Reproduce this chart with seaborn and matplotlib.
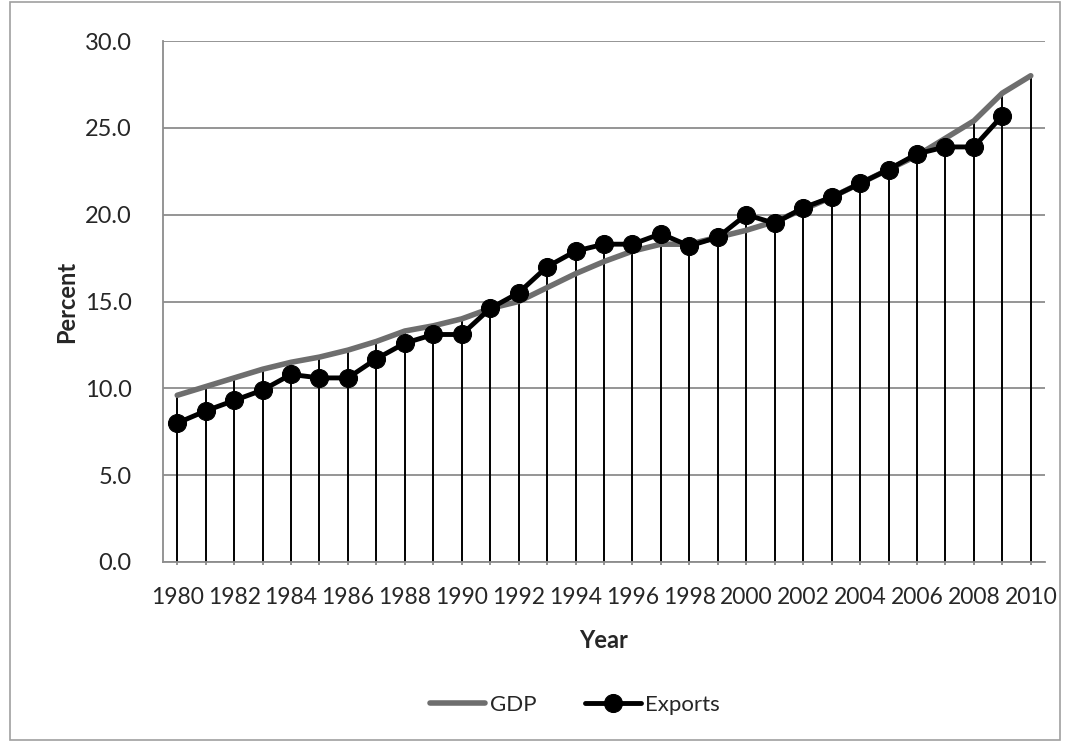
import numpy as np
import pandas as pd
import matplotlib
matplotlib.use('Agg')
import matplotlib.pyplot as plt
import seaborn as sns
from matplotlib.patches import Rectangle
from matplotlib.lines import Line2D
from matplotlib.legend_handler import HandlerLine2D

years = list(range(1980, 2011))
gdp = [9.6, 10.1, 10.6, 11.1, 11.5, 11.8, 12.2, 12.7, 13.3, 13.6,
       14.0, 14.6, 15.0, 15.8, 16.6, 17.3, 17.9, 18.3, 18.3, 18.7,
       19.1, 19.6, 20.3, 21.0, 21.8, 22.6, 23.4, 24.4, 25.4, 27.0, 28.0]
exports = [8.0, 8.7, 9.3, 9.9, 10.8, 10.6, 10.6, 11.7, 12.6, 13.1,
           13.1, 14.6, 15.5, 17.0, 17.9, 18.3, 18.3, 18.9, 18.2, 18.7,
           20.0, 19.5, 20.4, 21.0, 21.8, 22.6, 23.5, 23.9, 23.9, 25.7, np.nan]
yticks = [0, 5, 10, 15, 20, 25, 30]
xticks = list(range(1980, 2011, 2))

df = pd.DataFrame({'Year': years, 'GDP': gdp, 'Exports': exports})


# legend marker sits at the left end of the line, like Excel
class LeftMarker(HandlerLine2D):
    def get_xdata(self, legend, xdescent, ydescent, width, height, fontsize):
        xdata, _ = super().get_xdata(legend, xdescent, ydescent, width, height, fontsize)
        return xdata, [-xdescent]


sns.set_style('white')
plt.rcParams['font.family'] = ['Lato', 'DejaVu Sans']

fig = plt.figure(figsize=(10.7, 7.42), dpi=100)
ax = fig.add_axes([163 / 1070, 1 - 562 / 742, 882 / 1070, 521 / 742])

# gridlines
for y in yticks:
    ax.axhline(y, color='#8c8c8c', lw=1.3, zorder=0)

# drop lines from the highest series down to zero
top = np.fmax(np.array(gdp), np.array(exports, dtype=float))
ax.vlines(years, 0, top, color='black', lw=1.4, zorder=1)

sns.lineplot(data=df, x='Year', y='GDP', ax=ax, color='#6e6e6e', lw=4,
             label='GDP', zorder=2)
sns.lineplot(data=df, x='Year', y='Exports', ax=ax, color='black', lw=3.5,
             marker='o', markersize=13, markeredgecolor='black',
             label='Exports', zorder=3)

ax.set_xlim(1979.5, 2010.5)
ax.set_ylim(0, 30)
ax.set_yticks(yticks)
ax.set_yticklabels([f'{v:.1f}' for v in yticks], fontsize=17)
ax.set_xticks(xticks)
ax.set_xticklabels([str(v) for v in xticks], fontsize=16.5)
ax.set_xticks(years, minor=True)
ax.tick_params(axis='y', length=6.5, color='#8c8c8c', width=1.3, pad=16)
ax.tick_params(axis='x', which='both', length=2.5, color='#8c8c8c', width=1.3,
               direction='out', pad=15.5, bottom=True)
for s in ['top', 'right']:
    ax.spines[s].set_visible(False)
ax.spines['left'].set_color('#8c8c8c')
ax.spines['left'].set_linewidth(1.3)
ax.spines['bottom'].set_color('#8c8c8c')
ax.spines['bottom'].set_linewidth(1.3)

ax.set_xlabel('Year', fontsize=17, fontweight='bold', labelpad=15)
ax.set_ylabel('Percent', fontsize=17, fontweight='bold', labelpad=5)

leg = ax.legend(loc='center', bbox_to_anchor=(0.467, -0.2745), ncol=2,
                frameon=False, fontsize=16, handlelength=2.5,
                columnspacing=2.2, handletextpad=0.2,
                handler_map={Line2D: LeftMarker()})

fig.patches.append(Rectangle((10 / 1070, 2 / 742), 1050 / 1070, 738 / 742,
                             transform=fig.transFigure, fill=False,
                             edgecolor='#a0a0a0', lw=1.2))

fig.savefig('out.png', dpi=100)
